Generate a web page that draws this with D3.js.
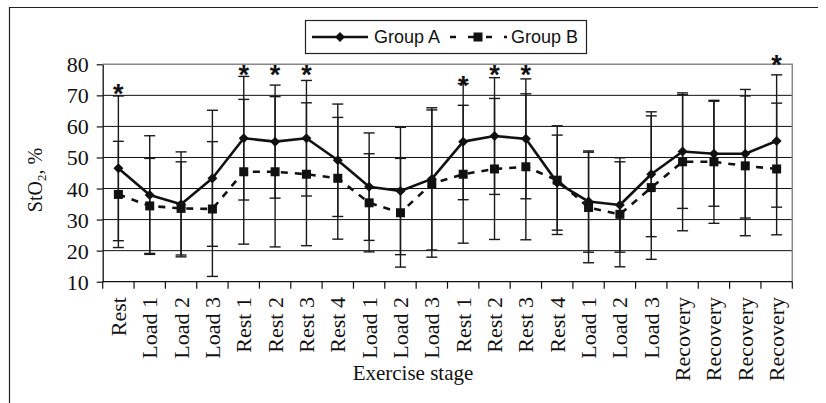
<!DOCTYPE html>
<html>
<head>
<meta charset="utf-8">
<script src="https://cdn.jsdelivr.net/npm/d3@7"></script>
<style>
  html, body { margin: 0; padding: 0; background: #fff; }
  svg { display: block; }
</style>
</head>
<body>
<svg id="chart" width="826" height="403"></svg>
<script>
// Exercise stages along the x axis (labels repeat, so bands are indexed)
const stages = ["Rest", "Load 1", "Load 2", "Load 3", "Rest 1", "Rest 2", "Rest 3", "Rest 4",
  "Load 1", "Load 2", "Load 3", "Rest 1", "Rest 2", "Rest 3", "Rest 4",
  "Load 1", "Load 2", "Load 3", "Recovery", "Recovery", "Recovery", "Recovery"];

// Mean StO2 (%) and standard deviation per stage
const groupA = [46.5, 37.9, 34.9, 43.3, 56.2, 55.1, 56.2, 49.1, 40.6, 39.2, 43.1,
  55.1, 56.9, 56.0, 41.9, 35.8, 34.7, 44.6, 51.9, 51.2, 51.2, 55.3];
const sdA = [23.3, 19.1, 16.9, 21.9, 19.9, 18.2, 18.6, 18.1, 17.3, 20.5, 22.9,
  18.7, 18.8, 19.3, 15.3, 16.3, 15.2, 20.1, 18.3, 16.9, 20.7, 21.3];
const groupB = [38.1, 34.4, 33.6, 33.4, 45.4, 45.4, 44.6, 43.3, 35.4, 32.2, 41.6,
  44.6, 46.3, 47.0, 42.7, 33.9, 31.7, 40.3, 48.6, 48.6, 47.3, 46.3];
const sdB = [17.1, 15.3, 15.0, 21.7, 23.3, 24.2, 23.0, 19.6, 15.8, 17.5, 23.7,
  22.2, 22.7, 23.5, 17.5, 17.8, 16.9, 23.1, 22.2, 19.8, 22.5, 21.2];

// Stages marked significant, with the level at which the asterisk sits
const starStage = [0, 4, 5, 6, 11, 12, 13, 21];
const starLevel = [72.3, 78.5, 78.5, 78.5, 75.0, 78.5, 78.5, 81.7];

const yTicks = [10, 20, 30, 40, 50, 60, 70, 80];
const seriesNames = ["Group A", "Group B"];

const svg = d3.select("#chart");
const plot = { left: 102.7, right: 792.3, top: 64.3, bottom: 281.7 };

const x = d3.scaleBand()
  .domain(d3.range(stages.length))
  .range([plot.left, plot.right])
  .paddingInner(0).paddingOuter(0);
const cx = i => x(i) + x.bandwidth() / 2;

const y = d3.scaleLinear().domain([10, 80]).range([plot.bottom, plot.top]);

const serif = "'Liberation Serif', 'Times New Roman', serif";
const sans = "'Liberation Sans', Arial, sans-serif";

svg.append("rect").attr("width", 826).attr("height", 403).attr("fill", "#fff");

// Outer frame (left and top edges)
svg.append("path")
  .attr("d", "M9.5,403 L9.5,7.5 L818,7.5")
  .attr("fill", "none").attr("stroke", "#222").attr("stroke-width", 1.2);

// Horizontal gridlines
svg.append("g")
  .selectAll("line")
  .data(yTicks.filter(t => t > 10 && t < 80))
  .join("line")
  .attr("x1", plot.left).attr("x2", plot.right)
  .attr("y1", d => y(d)).attr("y2", d => y(d))
  .attr("stroke", "#111").attr("stroke-width", 1);

// Plot border (top and right, grey)
svg.append("path")
  .attr("d", `M${plot.left},${y(80)} L${plot.right},${y(80)} L${plot.right},${y(10)}`)
  .attr("fill", "none").attr("stroke", "#888").attr("stroke-width", 1.5);

// Y axis
const yAxis = svg.append("g")
  .attr("transform", `translate(${plot.left},0)`)
  .call(d3.axisLeft(y).tickValues(yTicks).tickSize(6).tickPadding(8).tickSizeOuter(0));
yAxis.select(".domain").attr("stroke", "#111").attr("stroke-width", 1.3);
yAxis.selectAll(".tick line").attr("stroke", "#111").attr("stroke-width", 1.2);
yAxis.selectAll(".tick text")
  .attr("font-family", serif).attr("font-size", 22).attr("fill", "#111")
  .attr("dy", "0.34em");

// X axis: baseline with ticks at band boundaries
const xAxisG = svg.append("g");
xAxisG.append("line")
  .attr("x1", plot.left).attr("x2", plot.right)
  .attr("y1", plot.bottom).attr("y2", plot.bottom)
  .attr("stroke", "#111").attr("stroke-width", 1.3);
xAxisG.selectAll("line.bound")
  .data(d3.range(stages.length + 1))
  .join("line")
  .attr("class", "bound")
  .attr("x1", i => i < stages.length ? x(i) : plot.right)
  .attr("x2", i => i < stages.length ? x(i) : plot.right)
  .attr("y1", plot.bottom).attr("y2", plot.bottom + 7)
  .attr("stroke", "#111").attr("stroke-width", 1.2);

// Rotated stage labels
xAxisG.selectAll("text")
  .data(stages)
  .join("text")
  .attr("transform", (d, i) => `translate(${cx(i) + 7.5},297) rotate(-90)`)
  .attr("text-anchor", "end")
  .attr("font-family", serif).attr("font-size", 22).attr("fill", "#111")
  .text(d => d);

// Axis titles
svg.append("text")
  .attr("x", 413).attr("y", 380)
  .attr("text-anchor", "middle")
  .attr("font-family", serif).attr("font-size", 21).attr("fill", "#111")
  .text("Exercise stage");

const yTitle = svg.append("text")
  .attr("transform", "translate(42,180) rotate(-90)")
  .attr("text-anchor", "middle")
  .attr("font-family", serif).attr("font-size", 20).attr("fill", "#111");
yTitle.append("tspan").text("StO");
yTitle.append("tspan").attr("font-size", 13).attr("dy", 4).text("2");
yTitle.append("tspan").attr("dy", -4).text(", %");

// Error bars for both groups
const errData = [];
groupA.forEach((v, i) => errData.push({ i, lo: v - sdA[i], hi: v + sdA[i] }));
groupB.forEach((v, i) => errData.push({ i, lo: v - sdB[i], hi: v + sdB[i] }));

const err = svg.append("g").attr("stroke", "#1a1a1a").attr("stroke-width", 1.4);
err.selectAll("line.stem")
  .data(errData).join("line").attr("class", "stem")
  .attr("x1", d => cx(d.i)).attr("x2", d => cx(d.i))
  .attr("y1", d => y(d.lo)).attr("y2", d => y(d.hi));
const capHalf = 5.5;
err.selectAll("line.capHi")
  .data(errData).join("line").attr("class", "capHi")
  .attr("x1", d => cx(d.i) - capHalf).attr("x2", d => cx(d.i) + capHalf)
  .attr("y1", d => y(d.hi)).attr("y2", d => y(d.hi));
err.selectAll("line.capLo")
  .data(errData).join("line").attr("class", "capLo")
  .attr("x1", d => cx(d.i) - capHalf).attr("x2", d => cx(d.i) + capHalf)
  .attr("y1", d => y(d.lo)).attr("y2", d => y(d.lo));

// Series lines
const line = d3.line().x((d, i) => cx(i)).y(d => y(d));
svg.append("path")
  .datum(groupB)
  .attr("d", line)
  .attr("fill", "none").attr("stroke", "#111").attr("stroke-width", 2.6)
  .attr("stroke-dasharray", "7,7");
svg.append("path")
  .datum(groupA)
  .attr("d", line)
  .attr("fill", "none").attr("stroke", "#111").attr("stroke-width", 2.6)
  .attr("stroke-linejoin", "round");

// Markers
const diamond = (px, py, r) => `M${px},${py - r} L${px + r},${py} L${px},${py + r} L${px - r},${py} Z`;
svg.append("g").selectAll("rect")
  .data(groupB).join("rect")
  .attr("x", (d, i) => cx(i) - 4.5).attr("y", d => y(d) - 4.5)
  .attr("width", 9).attr("height", 9)
  .attr("fill", "#111");
svg.append("g").selectAll("path")
  .data(groupA).join("path")
  .attr("d", (d, i) => diamond(cx(i), y(d), 5))
  .attr("fill", "#111");

// Significance asterisks
svg.append("g").selectAll("text")
  .data(starStage).join("text")
  .attr("x", d => cx(d))
  .attr("y", (d, k) => y(starLevel[k]) + 15)
  .attr("text-anchor", "middle")
  .attr("font-family", sans).attr("font-weight", "bold")
  .attr("font-size", 27).attr("fill", "#111")
  .text("*");

// Legend
const legend = svg.append("g");
legend.append("rect")
  .attr("x", 305.5).attr("y", 20.5).attr("width", 281).attr("height", 33)
  .attr("fill", "#fff").attr("stroke", "#222").attr("stroke-width", 1.2);
legend.append("line")
  .attr("x1", 312).attr("x2", 368).attr("y1", 37).attr("y2", 37)
  .attr("stroke", "#111").attr("stroke-width", 2.6);
legend.append("path").attr("d", diamond(340, 37, 5)).attr("fill", "#111");
legend.append("text")
  .attr("x", 374).attr("y", 43)
  .attr("font-family", sans).attr("font-size", 18).attr("fill", "#111")
  .text(seriesNames[0]);
legend.append("line")
  .attr("x1", 450).attr("x2", 507).attr("y1", 37).attr("y2", 37)
  .attr("stroke", "#111").attr("stroke-width", 2.6)
  .attr("stroke-dasharray", "6,12");
legend.append("rect")
  .attr("x", 478 - 4.5).attr("y", 37 - 4.5).attr("width", 9).attr("height", 9)
  .attr("fill", "#111");
legend.append("text")
  .attr("x", 511).attr("y", 43)
  .attr("font-family", sans).attr("font-size", 18).attr("fill", "#111")
  .text(seriesNames[1]);
</script>
</body>
</html>
